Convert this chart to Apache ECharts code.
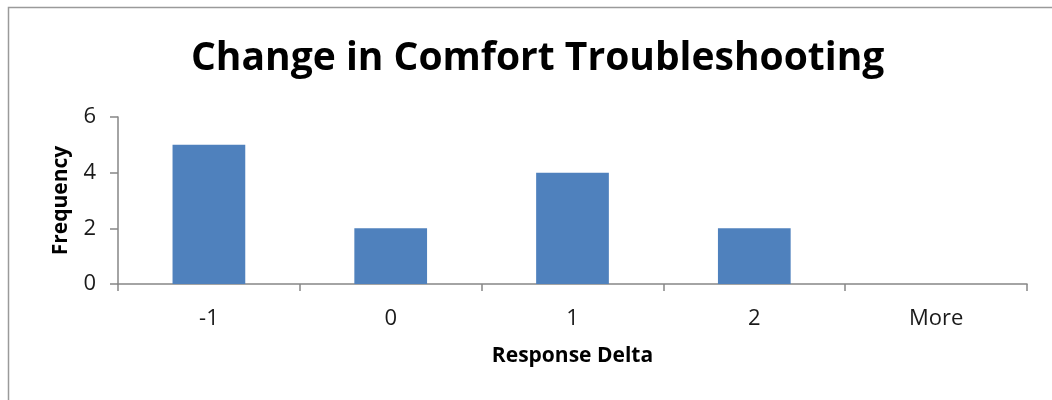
<!DOCTYPE html>
<html>
<head>
<meta charset="utf-8">
<script src="https://cdn.jsdelivr.net/npm/echarts@6/dist/echarts.min.js"></script>
<style>
  html, body { margin: 0; padding: 0; background: #fff; }
  #chart { width: 1052px; height: 400px; }
</style>
</head>
<body>
<div id="chart"></div>
<script>
// histogram bins and counts
const categories = ["-1", "0", "1", "2", "More"];
const frequency = [5, 2, 4, 2, 0];

const chart = echarts.init(document.getElementById("chart"));
const font = "'Open Sans', sans-serif";

chart.setOption({
  animation: false,
  backgroundColor: "#fff",
  title: {
    text: "Change in Comfort Troubleshooting",
    left: 186,
    top: 34,
    textStyle: {
      fontFamily: font,
      fontSize: 39,
      fontWeight: "bold",
      color: "#000",
    },
  },
  graphic: [
    {
      type: "rect",
      shape: { x: 8.5, y: 7.5, width: 1200, height: 600 },
      style: { fill: "none", stroke: "#9a9a9a", lineWidth: 1.5 },
      silent: true,
    },
  ],
  grid: { left: 118, right: 25, top: 117, bottom: 116 },
  xAxis: {
    type: "category",
    data: categories,
    name: "Response Delta",
    nameLocation: "middle",
    nameGap: 62,
    nameTextStyle: { fontFamily: font, fontSize: 21, fontWeight: "bold", color: "#000" },
    axisLine: { lineStyle: { color: "#868686", width: 1.5 } },
    axisTick: { show: true, length: 7, lineStyle: { color: "#868686", width: 1.5 } },
    axisLabel: { fontFamily: font, fontSize: 22, color: "#1a1a1a", margin: 24 },
  },
  yAxis: {
    type: "value",
    min: 0,
    max: 6,
    interval: 2,
    name: "Frequency",
    nameLocation: "middle",
    nameGap: 46,
    nameTextStyle: { fontFamily: font, fontSize: 21, fontWeight: "bold", color: "#000" },
    axisLine: { show: true, lineStyle: { color: "#868686", width: 1.5 } },
    axisTick: { show: true, length: 8, lineStyle: { color: "#868686", width: 1.5 } },
    axisLabel: { fontFamily: font, fontSize: 22, color: "#1a1a1a", margin: 22 },
    splitLine: { show: false },
  },
  series: [
    {
      type: "bar",
      data: frequency,
      barWidth: "40%",
      itemStyle: { color: "#4f81bd" },
    },
  ],
});
</script>
</body>
</html>
